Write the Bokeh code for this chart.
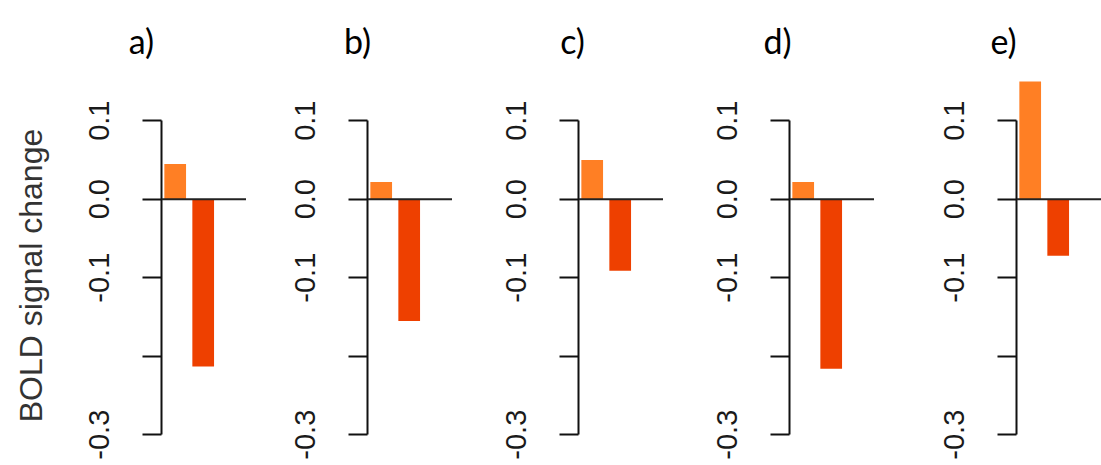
import math
from bokeh.plotting import figure
from bokeh.layouts import row, column
from bokeh.models import Range1d, FixedTicker, Span
from bokeh.core.properties import value
from bokeh.embed import file_html
from bokeh.resources import INLINE

# ---- data ----
panel_titles = ["a)", "b)", "c)", "d)", "e)"]
conditions = [1, 2]
cond_colors = ["#FF7F24", "#EE4000"]
values_a = [0.045, -0.213]
values_b = [0.022, -0.155]
values_c = [0.050, -0.091]
values_d = [0.022, -0.216]
values_e = [0.150, -0.072]
panel_values = [values_a, values_b, values_c, values_d, values_e]
y_ticks = [-0.3, -0.2, -0.1, 0.0, 0.1]
y_tick_labels = ["-0.3", "", "-0.1", "0.0", "0.1"]
y_title = "BOLD signal change"

# ---- layout (pixels) ----
W, H = 1101, 465
top_px = 60            # height of the title strip
ytitle_w = 60          # width of the strip holding the y title
zero_px = 198.7
px_per_unit = 785.0
bar_step_px = 28.0
first_bar_off = 13.7
frame_w = 85
axis_px = [161, 366.7, 578.3, 789, 1015.7]
title_cx = [141, 357, 572, 777, 1003]
title_baseline = 40
ytitle_cx, ytitle_cy = 30, 275

ph = H - top_px
y_start = (zero_px - H) / px_per_unit
y_end = (zero_px - top_px) / px_per_unit
x_start = conditions[0] - first_bar_off / bar_step_px
x_end = x_start + frame_w / bar_step_px


def blank(w, h):
    f = figure(output_backend="svg", toolbar_location=None, width=w, height=h,
               x_range=Range1d(0, w), y_range=Range1d(0, h),
               x_axis_location=None, y_axis_location=None,
               min_border=0)
    f.outline_line_color = None
    f.grid.visible = False
    return f


# title strip
tf = blank(W, top_px)
tf.text(x=title_cx, y=[top_px - title_baseline] * len(title_cx), text=panel_titles,
        text_align="center", text_baseline="alphabetic",
        text_font=value("Lato"), text_font_size="34px", text_color="#000000")

# y-title strip
yf = blank(ytitle_w, ph)
yf.text(x=[ytitle_cx], y=[H - ytitle_cy], text=[y_title], angle=math.pi / 2,
        text_align="center", text_baseline="middle",
        text_font=value("Liberation Sans"), text_font_size="32px", text_color="#333333")

figs = [yf]
prev_end = ytitle_w
for i, vals in enumerate(panel_values):
    left = int(round(axis_px[i] - prev_end))
    p = figure(output_backend="svg", toolbar_location=None,
               frame_width=frame_w, frame_height=ph,
               x_range=Range1d(x_start, x_end), y_range=Range1d(y_start, y_end),
               x_axis_location=None, min_border_left=left,
               min_border_right=0, min_border_top=0, min_border_bottom=0)
    prev_end = prev_end + left + frame_w
    p.outline_line_color = None
    p.grid.visible = False

    ax = p.yaxis[0]
    ax.bounds = (y_ticks[0], y_ticks[-1])
    ax.ticker = FixedTicker(ticks=y_ticks, minor_ticks=[])
    ax.major_label_overrides = {t: l for t, l in zip(y_ticks, y_tick_labels)}
    ax.major_label_orientation = "vertical"
    ax.major_label_text_font = "Liberation Sans"
    ax.major_label_text_font_size = "29px"
    ax.major_label_text_color = "#1a1a1a"
    ax.major_label_standoff = 33
    ax.major_tick_out = 19
    ax.major_tick_in = 0
    ax.minor_tick_out = 0
    ax.minor_tick_in = 0
    ax.axis_line_width = 2
    ax.major_tick_line_width = 2
    ax.axis_line_color = "#111111"
    ax.major_tick_line_color = "#111111"

    p.vbar(x=conditions, top=vals, bottom=0, width=21.7 / bar_step_px,
           fill_color=cond_colors, line_color=None)
    p.add_layout(Span(location=0, dimension="width", line_color="#222222", line_width=2))
    figs.append(p)

layout = column(tf, row(*figs, spacing=0), spacing=0)
open("out.html", "w").write(file_html(layout, INLINE))
